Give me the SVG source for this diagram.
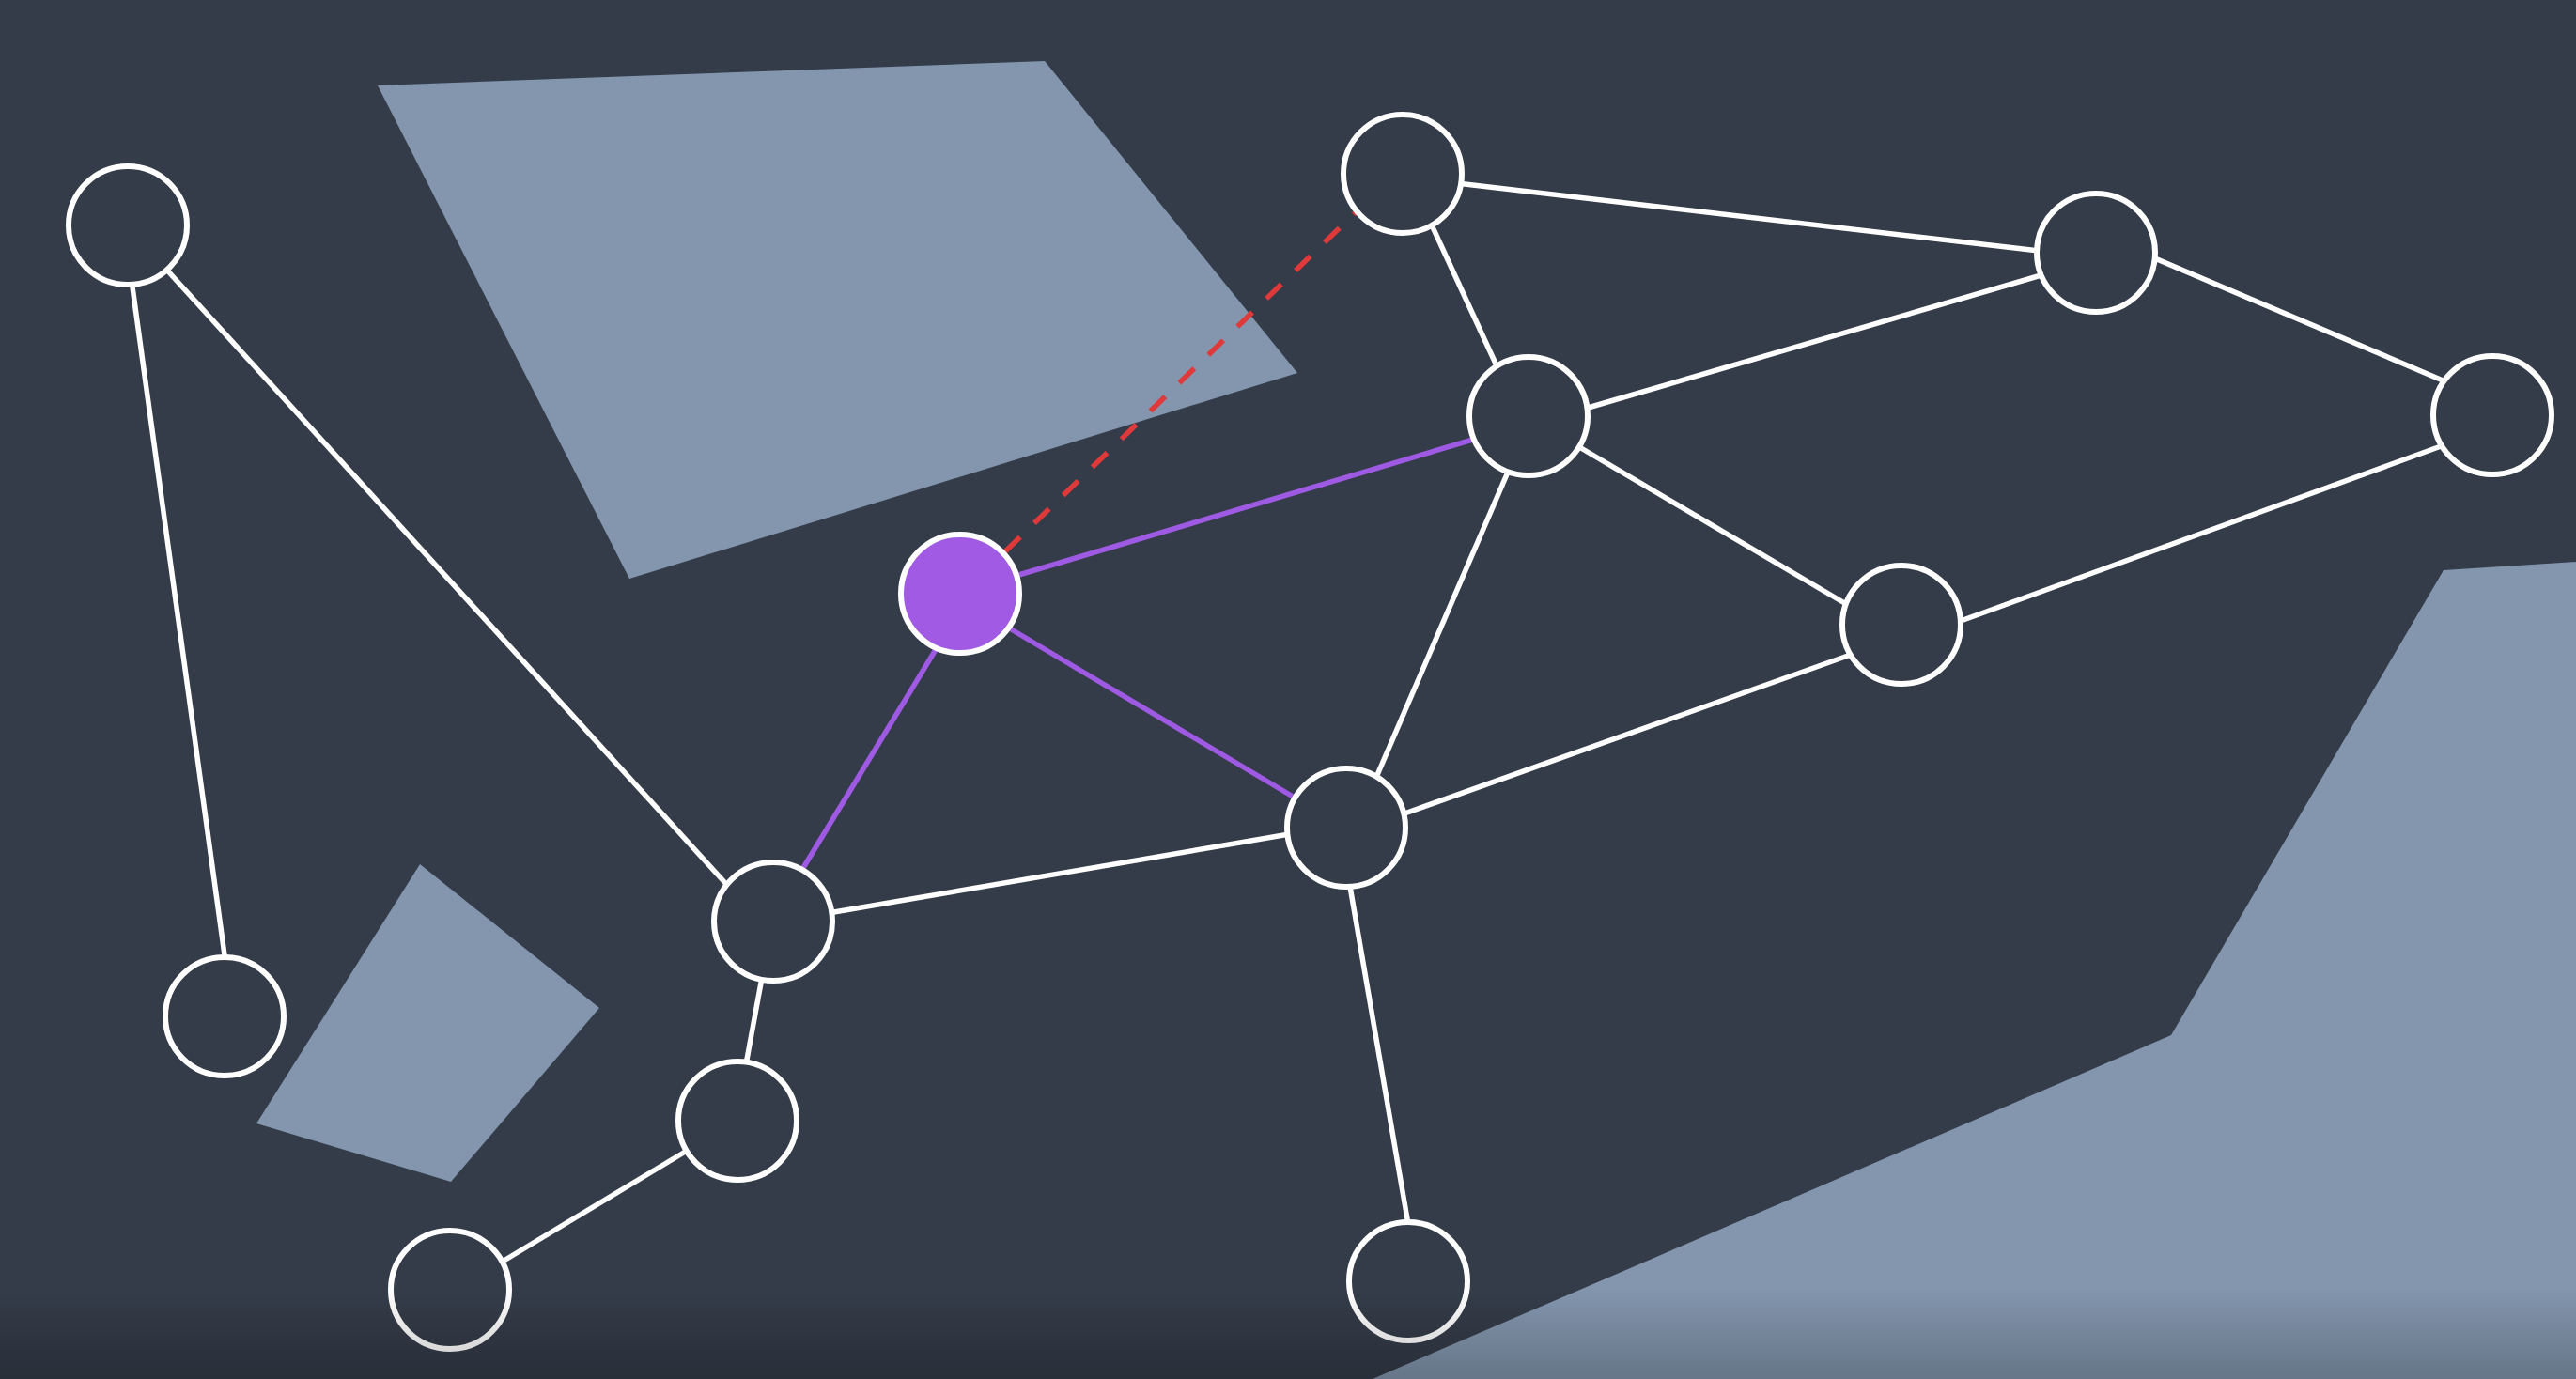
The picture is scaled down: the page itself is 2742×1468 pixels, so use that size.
<svg xmlns="http://www.w3.org/2000/svg" width="2742" height="1468" viewBox="0 0 2742 1468">
  <defs>
    <linearGradient id="fade" x1="0" y1="0" x2="0" y2="1">
      <stop offset="0" stop-color="#000" stop-opacity="0"/>
      <stop offset="1" stop-color="#000" stop-opacity="0.22"/>
    </linearGradient>
    <style>
      .bg { fill: #343c49; }
      .zone { fill: #8396ae; }
      .edge { stroke: #ffffff; stroke-width: 5.5; fill: none; }
      .path { stroke: #9f5ae4; stroke-width: 5.5; fill: none; }
      .link { stroke: #e0393a; stroke-width: 5.5; stroke-dasharray: 22 21; fill: none; }
      .node { fill: #343c49; stroke: #ffffff; stroke-width: 6; }
      .active { fill: #a05ae4; stroke: #ffffff; stroke-width: 6; }
    </style>
  </defs>
  <rect class="bg" x="0" y="0" width="2742" height="1468"/>
  <g id="zones">
    <polygon class="zone" points="402,91 1112,65 1381,397 670,616"/>
    <polygon class="zone" points="447,920 638,1073 480,1258 273,1196"/>
    <polygon class="zone" points="2601,607 2742,598 2742,1468 1461,1468 2311,1102"/>
  </g>
  <g id="connectors">
    <line class="edge" x1="139" y1="291" x2="241" y2="1031"/>
    <line class="edge" x1="170" y1="279" x2="782" y2="951"/>
    <line class="edge" x1="1542" y1="194" x2="2179" y2="268"/>
    <line class="edge" x1="1520" y1="231" x2="1598" y2="400"/>
    <line class="edge" x1="2183" y1="290" x2="1680" y2="437"/>
    <line class="edge" x1="2284" y1="271" x2="2612" y2="410"/>
    <line class="edge" x1="1671" y1="470" x2="1977" y2="650"/>
    <line class="edge" x1="2612" y1="470" x2="2076" y2="665"/>
    <line class="edge" x1="1610" y1="491" x2="1460" y2="839"/>
    <line class="edge" x1="1981" y1="693" x2="1484" y2="870"/>
    <line class="edge" x1="1384" y1="886" x2="876" y2="973"/>
    <line class="edge" x1="1435" y1="932" x2="1501" y2="1315"/>
    <line class="edge" x1="813" y1="1030" x2="792" y2="1144"/>
    <line class="edge" x1="741" y1="1219" x2="523" y2="1350"/>
    <line class="path" x1="1071" y1="616" x2="1581" y2="464"/>
    <line class="path" x1="1063" y1="662" x2="1388" y2="855"/>
    <line class="path" x1="1003" y1="680" x2="847" y2="937"/>
    <line class="link" x1="1070" y1="587" x2="1442" y2="227"/>
  </g>
  <g id="n1"><circle class="node" cx="136" cy="240" r="63"/></g>
  <g id="n2"><circle class="node" cx="239" cy="1082" r="63"/></g>
  <g id="n3"><circle class="node" cx="1493" cy="185" r="63"/></g>
  <g id="n4"><circle class="node" cx="2231" cy="269" r="63"/></g>
  <g id="n5"><circle class="node" cx="1627" cy="443" r="63"/></g>
  <g id="n6"><circle class="node" cx="2653" cy="442" r="63"/></g>
  <g id="n7"><circle class="node" cx="2024" cy="665" r="63"/></g>
  <g id="n8"><circle class="active" cx="1022" cy="632" r="63"/></g>
  <g id="n9"><circle class="node" cx="1433" cy="881" r="63"/></g>
  <g id="n10"><circle class="node" cx="823" cy="981" r="63"/></g>
  <g id="n11"><circle class="node" cx="785" cy="1193" r="63"/></g>
  <g id="n12"><circle class="node" cx="479" cy="1373" r="63"/></g>
  <g id="n13"><circle class="node" cx="1499" cy="1364" r="63"/></g>
  <rect x="0" y="1370" width="2742" height="98" fill="url(#fade)"/>
</svg>
